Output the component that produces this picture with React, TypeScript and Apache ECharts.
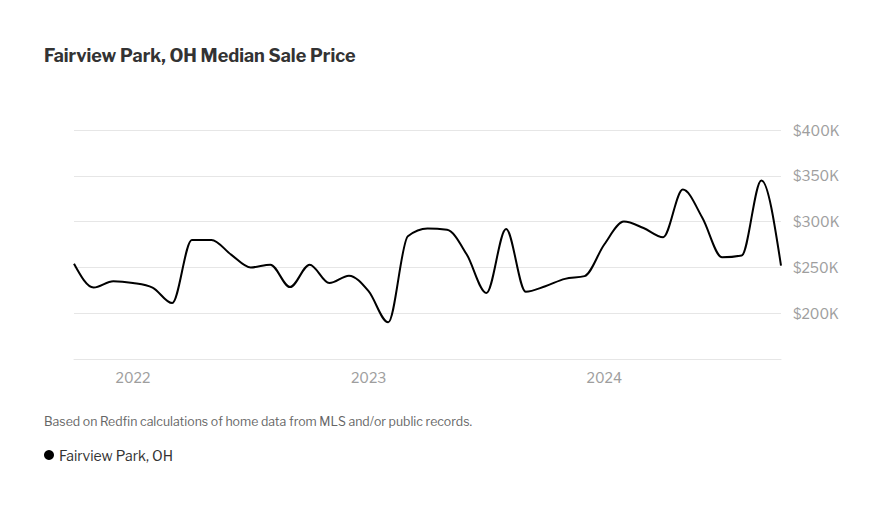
import React, { useEffect, useRef } from "react";
import * as echarts from "echarts";

const months = [
  "2021-10", "2021-11", "2021-12",
  "2022-01", "2022-02", "2022-03", "2022-04", "2022-05", "2022-06", "2022-07", "2022-08", "2022-09", "2022-10", "2022-11", "2022-12",
  "2023-01", "2023-02", "2023-03", "2023-04", "2023-05", "2023-06", "2023-07", "2023-08", "2023-09", "2023-10", "2023-11", "2023-12",
  "2024-01", "2024-02", "2024-03", "2024-04", "2024-05", "2024-06", "2024-07", "2024-08", "2024-09", "2024-10",
];

const prices = [
  254000, 228000, 235000,
  233000, 228000, 211000, 280000, 280000, 264000, 250000, 253000, 228500, 253000, 233000, 241000,
  224000, 190000, 284000, 292500, 291000, 264000, 222000, 292000, 223500, 229500, 237500, 240500,
  275000, 300000, 293000, 283000, 335000, 304000, 261000, 263000, 345000, 252000,
];

const yTicks = [150000, 200000, 250000, 300000, 350000, 400000];
const yearLabels: Record<string, string> = { "2022-01": "2022", "2023-01": "2023", "2024-01": "2024" };

const FONT = "'Libre Franklin', Inter, 'Noto Sans', sans-serif";

function sgn(v: number) {
  return v < 0 ? -1 : 1;
}

// monotone-x cubic path through pixel points
function monotonePath(pts: number[][]) {
  const n = pts.length;
  if (n < 2) return "";
  const m: number[] = new Array(n).fill(0);
  for (let i = 1; i < n - 1; i++) {
    const h0 = pts[i][0] - pts[i - 1][0];
    const h1 = pts[i + 1][0] - pts[i][0];
    const s0 = (pts[i][1] - pts[i - 1][1]) / h0;
    const s1 = (pts[i + 1][1] - pts[i][1]) / h1;
    const p = (s0 * h1 + s1 * h0) / (h0 + h1);
    m[i] = (sgn(s0) + sgn(s1)) * Math.min(Math.abs(s0), Math.abs(s1), 0.5 * Math.abs(p)) || 0;
  }
  const sFirst = (pts[1][1] - pts[0][1]) / (pts[1][0] - pts[0][0]);
  const sLast = (pts[n - 1][1] - pts[n - 2][1]) / (pts[n - 1][0] - pts[n - 2][0]);
  m[0] = n > 2 ? (3 * sFirst - m[1]) / 2 : sFirst;
  m[n - 1] = n > 2 ? (3 * sLast - m[n - 2]) / 2 : sLast;
  let d = `M${pts[0][0]},${pts[0][1]}`;
  for (let i = 0; i < n - 1; i++) {
    const [x0, y0] = pts[i];
    const [x1, y1] = pts[i + 1];
    const dx = (x1 - x0) / 3;
    d += `C${x0 + dx},${y0 + dx * m[i]},${x1 - dx},${y1 - dx * m[i + 1]},${x1},${y1}`;
  }
  return d;
}

export default function App() {
  const ref = useRef<HTMLDivElement>(null);
  useEffect(() => {
    if (!ref.current) return;
    const chart = echarts.init(ref.current, undefined, { renderer: "svg" });
    chart.setOption({
      animation: false,
      backgroundColor: "#ffffff",
      title: {
        text: "Fairview Park, OH Median Sale Price",
        left: 31,
        top: 33,
        textStyle: { fontFamily: FONT, fontSize: 18, fontWeight: 700, color: "#333333" },
      },
      grid: { left: 66, right: 99, top: 122, bottom: 142, containLabel: false },
      xAxis: {
        type: "category",
        data: months,
        boundaryGap: false,
        axisLine: { show: true, lineStyle: { color: "#e6e6e6", width: 1 } },
        axisTick: { show: false },
        splitLine: { show: false },
        axisLabel: {
          interval: 0,
          formatter: (v: string) => yearLabels[v] || "",
          color: "#9e9e9e",
          fontFamily: FONT,
          fontSize: 14,
          margin: 11,
        },
      },
      yAxis: {
        type: "value",
        position: "right",
        min: yTicks[0],
        max: yTicks[yTicks.length - 1],
        interval: 50000,
        axisLine: { show: false },
        axisTick: { show: false },
        splitLine: { show: true, lineStyle: { color: "#e6e6e6", width: 1 } },
        axisLabel: {
          formatter: (v: number) => (v === yTicks[0] ? "" : "$" + v / 1000 + "K"),
          color: "#9e9e9e",
          fontFamily: FONT,
          fontSize: 14,
          margin: 12,
        },
      },
      legend: {
        data: [{ name: "Fairview Park, OH", icon: "circle", itemStyle: { color: "#000000" } }],
        left: 31,
        top: 435,
        itemWidth: 10,
        itemHeight: 10,
        itemGap: 6,
        textStyle: { fontFamily: FONT, fontSize: 14, color: "#333333" },
      },
      graphic: [
        {
          type: "text",
          left: 36,
          top: 407,
          style: {
            text: "Based on Redfin calculations of home data from MLS and/or public records.",
            font: "12.3px " + FONT,
            fill: "#666666",
          },
        },
      ],
      series: [
        {
          name: "Fairview Park, OH",
          type: "custom",
          coordinateSystem: "cartesian2d",
          data: [[0, prices[0]]],
          itemStyle: { color: "#000000" },
          renderItem: (params: any, api: any) => {
            const pts = prices.map((v, i) => api.coord([i, v]));
            return {
              type: "path",
              shape: { pathData: monotonePath(pts) },
              style: { stroke: "#000000", fill: "none", lineWidth: 2 },
            };
          },
        },
      ],
    });
    return () => chart.dispose();
  }, []);
  return <div ref={ref} style={{ width: 872, height: 493 }} />;
}
